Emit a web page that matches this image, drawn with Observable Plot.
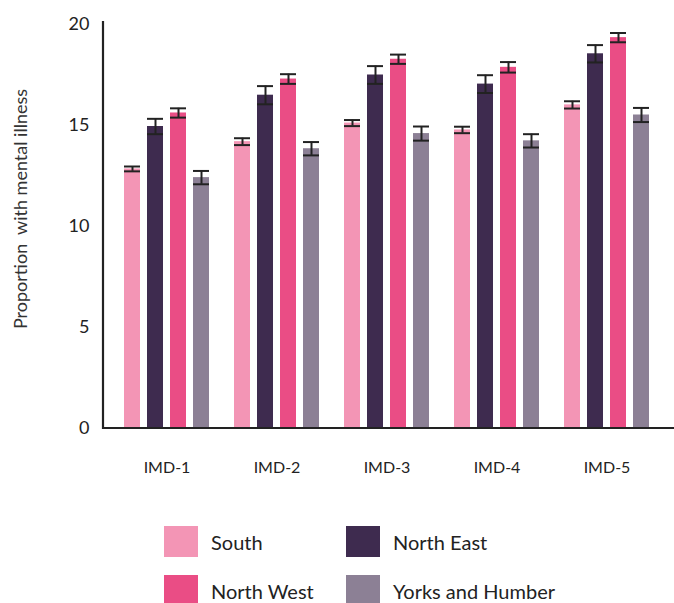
<!DOCTYPE html>
<html>
<head>
<meta charset="utf-8">
<script src="https://cdn.jsdelivr.net/npm/d3@7"></script>
<script src="https://cdn.jsdelivr.net/npm/@observablehq/plot@0.6"></script>
<style>
  html, body { margin: 0; padding: 0; background: #fff; }
  body { width: 674px; height: 603px; overflow: hidden; font-family: Lato, "Open Sans", sans-serif; }
  #chart { height: 490px; }
  #legend { position: relative; height: 113px; }
  .item { position: absolute; display: flex; align-items: center; font-size: 20px; color: #222; }
  .sw { width: 34px; height: 31px; margin-right: 13px; }
</style>
</head>
<body>
<div id="chart"></div>
<div id="legend"></div>
<script>
const groups = ["IMD-1", "IMD-2", "IMD-3", "IMD-4", "IMD-5"];
const regions = ["South", "North East", "North West", "Yorks and Humber"];
const colors = ["#f395b5", "#3e2b4f", "#ea4d85", "#8c8095"];
const south = [12.85, 14.2, 15.12, 14.78, 16.02];
const northEast = [14.95, 16.5, 17.5, 17.05, 18.55];
const northWest = [15.62, 17.3, 18.28, 17.88, 19.35];
const yorks = [12.42, 13.85, 14.6, 14.24, 15.52];
const southErr = [0.12, 0.17, 0.15, 0.16, 0.18];
const northEastErr = [0.38, 0.45, 0.44, 0.44, 0.43];
const northWestErr = [0.23, 0.24, 0.23, 0.26, 0.23];
const yorksErr = [0.33, 0.33, 0.35, 0.33, 0.35];
const yTicks = [0, 5, 10, 15, 20];
const yLabel = "Proportion  with mental illness";

const series = [south, northEast, northWest, yorks];
const errs = [southErr, northEastErr, northWestErr, yorksErr];
const rows = [];
groups.forEach((g, gi) => {
  regions.forEach((r, ri) => {
    const v = series[ri][gi], e = errs[ri][gi];
    rows.push({group: g, region: r, value: v, lo: v - e, hi: v + e});
  });
});

const W = 674, H = 490, ML = 103, MT = 24, MB = 62, MR = 0;
const plot = Plot.plot({
  width: W, height: H,
  marginLeft: ML, marginTop: MT, marginBottom: MB, marginRight: MR,
  style: {fontFamily: "Lato, 'Open Sans', sans-serif", fontSize: "16px", color: "#222", background: "#fff"},
  facet: {data: rows, x: "group", label: null},
  fx: {domain: groups, paddingInner: 0.212, paddingOuter: 0.2, align: 0.46, axis: "bottom", tickSize: 0, tickPadding: 33, label: null},
  x: {domain: regions, paddingInner: 0.32, paddingOuter: 0, axis: null},
  y: {domain: [0, 20], ticks: yTicks, tickSize: 0, tickPadding: 34, label: null},
  color: {domain: regions, range: colors},
  marks: [
    Plot.barY(rows, {x: "region", y: "value", fill: "region"}),
    Plot.ruleX(rows, {x: "region", y1: "lo", y2: "hi", stroke: "#222", strokeWidth: 2}),
    Plot.tickY(rows, {x: "region", y: "lo", stroke: "#222", strokeWidth: 2}),
    Plot.tickY(rows, {x: "region", y: "hi", stroke: "#222", strokeWidth: 2})
  ]
});
document.getElementById("chart").appendChild(plot);

const svg = d3.select(plot);
svg.selectAll('g[aria-label^="fx-axis"] text').style("font-size", "16px").attr("fill", "#222");
svg.selectAll('g[aria-label^="y-axis"] text').style("font-size", "18px").attr("fill", "#222");

const ys = plot.scale("y");
const y0 = ys.apply(0), y20 = ys.apply(20);
svg.append("line").attr("x1", ML).attr("x2", ML).attr("y1", y20 - 3).attr("y2", y0 + 1)
  .attr("stroke", "#222").attr("stroke-width", 2.2);
svg.append("line").attr("x1", ML - 1).attr("x2", W).attr("y1", y0).attr("y2", y0)
  .attr("stroke", "#222").attr("stroke-width", 2.2);
svg.append("text").text(yLabel)
  .attr("transform", `translate(27,${(y0 + y20) / 2 - 17}) rotate(-90)`)
  .attr("text-anchor", "middle").attr("fill", "#333")
  .style("font-size", "18px").style("font-family", "Lato, 'Open Sans', sans-serif")
  .style("white-space", "pre");

const legend = document.getElementById("legend");
const pos = [[164, 36], [346, 36], [164, 85], [346, 85]];
const order = ["South", "North East", "North West", "Yorks and Humber"];
order.forEach((r, i) => {
  const it = document.createElement("div");
  it.className = "item";
  it.style.left = pos[i][0] + "px";
  it.style.top = pos[i][1] + "px";
  const sw = document.createElement("div");
  sw.className = "sw";
  sw.style.background = colors[regions.indexOf(r)];
  const t = document.createElement("span");
  t.textContent = r;
  it.appendChild(sw); it.appendChild(t);
  legend.appendChild(it);
});
</script>
</body>
</html>
